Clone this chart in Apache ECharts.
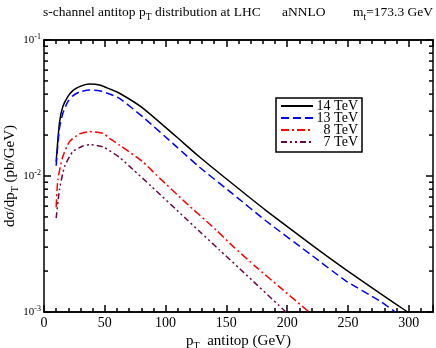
<!DOCTYPE html>
<html>
<head>
    <meta charset="UTF-8">
    <title>s-channel antitop pT</title>
    <script src="https://cdn.jsdelivr.net/npm/echarts@6/dist/echarts.min.js"></script>
</head>
<body style="margin:0">
<div id="main" style="width: 436px;height:348px;"></div>
<script type="text/javascript">
    // values (pT in GeV, dsigma/dpT in pb/GeV)
    var pt14 = [10, 12.7, 15.5, 19.6, 23.7, 29.2, 37.4, 45.6, 53.9, 62.1, 81.3, 108.7, 128, 155.3, 182.7, 221, 248.5, 275.9, 299.2];
    var val14 = [0.0127, 0.0246, 0.0324, 0.0383, 0.0424, 0.0454, 0.0474, 0.0467, 0.0437, 0.0406, 0.0316, 0.0195, 0.0138, 0.00873, 0.00557, 0.00308, 0.00204, 0.00138, 0.001];

    var pt13 = [10, 12.7, 15.5, 19.6, 23.7, 29.2, 37.4, 45.6, 53.9, 62.1, 81.3, 108.7, 128, 155.3, 182.7, 221, 248.5, 275.9, 289];
    var val13 = [0.0119, 0.0224, 0.0289, 0.0352, 0.0388, 0.0415, 0.0429, 0.0424, 0.0401, 0.0372, 0.0272, 0.0165, 0.0116, 0.00738, 0.00467, 0.00258, 0.00169, 0.00121, 0.001];

    var pt8 = [10, 11.4, 15.5, 21, 29.2, 37.4, 48.4, 53.9, 62.1, 81.3, 92.3, 117, 141.6, 155.3, 174.5, 193.7, 218];
    var val8 = [0.0059, 0.0094, 0.0139, 0.0179, 0.0204, 0.0212, 0.0206, 0.0189, 0.0169, 0.0127, 0.0102, 0.00632, 0.00401, 0.00305, 0.00214, 0.00153, 0.001];

    var pt7 = [10, 12.7, 16.9, 23.7, 31.9, 37.4, 48.4, 62.1, 73, 88.1, 117, 128, 144.3, 160.8, 199];
    var val7 = [0.0049, 0.0079, 0.0117, 0.0151, 0.0166, 0.0170, 0.0164, 0.0137, 0.0112, 0.00843, 0.00483, 0.00391, 0.00286, 0.00209, 0.001];

    var seriesNames = ['14 TeV', '13 TeV', '8 TeV', '7 TeV'];

    // tick values
    var xMajor = [0, 50, 100, 150, 200, 250, 300];
    var yMajor = [0.001, 0.01, 0.1];
    var yMinor = [0.002, 0.003, 0.004, 0.005, 0.006, 0.007, 0.008, 0.009,
        0.02, 0.03, 0.04, 0.05, 0.06, 0.07, 0.08, 0.09];

    function pairs(xs, ys) {
        return xs.map(function (x, i) {
            return [x, ys[i]];
        });
    }

    var serif = 'Liberation Serif';
    var tickW = 1.5;
    var myChart = echarts.init(document.getElementById('main'));

    var subRich = {
        n: {fontFamily: serif, fontSize: 15, color: '#000'},
        s: {fontFamily: serif, fontSize: 10, color: '#000', padding: [10, 0, 0, 0]}
    };

    function xAx(pos, step, len, labels) {
        return {
            type: 'value', position: pos, min: 0, max: 320, interval: step,
            axisLine: {show: true, onZero: false, lineStyle: {color: '#000', width: 1.5}},
            axisTick: {show: true, inside: true, length: len, lineStyle: {color: '#000', width: tickW}},
            axisLabel: labels ? {
                show: true, customValues: xMajor, color: '#000', fontFamily: serif, fontSize: 14, margin: 4
            } : {show: false},
            splitLine: {show: false},
            name: labels ? '{n|p}{s|T}{n|  antitop (GeV)}' : '',
            nameLocation: 'middle', nameGap: 19, nameMoveOverlap: false,
            nameTextStyle: {rich: subRich}
        };
    }

    function yAx(pos, labels) {
        return {
            type: 'log', logBase: 10, position: pos, min: 0.001, max: 0.1,
            axisLine: {show: true, onZero: false, lineStyle: {color: '#000', width: 1.5}},
            axisTick: {show: true, inside: true, length: 7, lineStyle: {color: '#000', width: tickW}},
            axisLabel: labels ? {
                show: true, customValues: yMajor, margin: 3,
                formatter: function (v) {
                    return '{b|10}{e|' + Math.round(Math.log10(v)) + '}';
                },
                rich: {
                    b: {fontFamily: serif, fontSize: 11, color: '#000'},
                    e: {fontFamily: serif, fontSize: 8, color: '#000', padding: [0, 0, 7, 0]}
                }
            } : {show: false},
            splitLine: {show: false},
            name: labels ? '{n|dσ/dp}{s|T}{n| (pb/GeV)}' : '',
            nameLocation: 'middle', nameGap: 24, nameRotate: 90, nameMoveOverlap: false,
            nameTextStyle: {rich: subRich}
        };
    }

    var styles = [
        {color: '#000000', type: 'solid'},
        {color: '#0000ff', type: [8, 4]},
        {color: '#ff0000', type: [8, 3, 2, 3]},
        {color: '#670748', type: [6, 3, 2, 3, 2, 3]}
    ];
    var datas = [pairs(pt14, val14), pairs(pt13, val13), pairs(pt8, val8), pairs(pt7, val7)];

    var series = [];
    for (var i = 0; i < 4; i++) {
        series.push({
            name: seriesNames[i],
            type: 'line',
            data: datas[i],
            showSymbol: false,
            symbol: 'none',
            smooth: 0.2,
            color: styles[i].color,
            lineStyle: {width: 1.5, color: styles[i].color, type: styles[i].type},
            xAxisIndex: 0,
            yAxisIndex: 0
        });
    }

    // minor ticks of the log axis, left and right side
    series.push({
        type: 'custom',
        silent: true,
        clip: false,
        xAxisIndex: 0,
        yAxisIndex: 0,
        data: yMinor.map(function (v) { return [0, v]; }),
        renderItem: function (params, api) {
            var l = api.coord([0, api.value(1)]);
            var r = api.coord([320, api.value(1)]);
            return {
                type: 'group',
                children: [
                    {type: 'line', shape: {x1: l[0], y1: l[1], x2: l[0] + 4, y2: l[1]}, style: {stroke: '#000', lineWidth: tickW}},
                    {type: 'line', shape: {x1: r[0], y1: r[1], x2: r[0] - 4, y2: r[1]}, style: {stroke: '#000', lineWidth: tickW}}
                ]
            };
        }
    });

    var titleStyle = {fontFamily: serif, fontSize: 13.5, color: '#000', fontWeight: 'normal'};
    var titleSub = {fontFamily: serif, fontSize: 9.5, color: '#000', fontWeight: 'normal', padding: [9, 0, 0, 0]};
    var option = {
        animation: false,
        backgroundColor: '#fff',
        title: [
            {
                text: '{n|s-channel antitop p}{s|T}{n| distribution at LHC}',
                left: 43, top: 3, padding: 0,
                textStyle: {rich: {n: titleStyle, s: titleSub}}
            },
            {
                text: '{n|aNNLO}{s| }',
                left: 282, top: 3, padding: 0,
                textStyle: {rich: {n: titleStyle, s: titleSub}}
            },
            {
                text: '{n|m}{s|t}{n|=173.3 GeV}',
                left: 353, top: 3, padding: 0,
                textStyle: {rich: {n: titleStyle, s: titleSub}}
            }
        ],
        grid: {left: 44, right: 3, top: 40, bottom: 36, containLabel: false, outerBoundsMode: 'none'},
        legend: {
            orient: 'vertical',
            left: 276, top: 98,
            data: seriesNames,
            itemWidth: 32, itemHeight: 10, itemGap: -2,
            padding: [1, 4, 3, 4],
            borderColor: '#000', borderWidth: 1.5,
            backgroundColor: '#fff',
            itemStyle: {opacity: 0},
            formatter: function (n) {
                return '{a|' + n + '}';
            },
            textStyle: {
                lineHeight: 12,
                rich: {
                    a: {fontFamily: serif, fontSize: 14, color: '#000', width: 40, align: 'right', lineHeight: 12}
                }
            }
        },
        xAxis: [
            xAx('bottom', 50, 7, true),
            xAx('bottom', 10, 4, false),
            xAx('top', 50, 7, false),
            xAx('top', 10, 4, false)
        ],
        yAxis: [
            yAx('left', true),
            yAx('right', false)
        ],
        series: series
    };
    myChart.setOption(option);
</script>
</body>
</html>
